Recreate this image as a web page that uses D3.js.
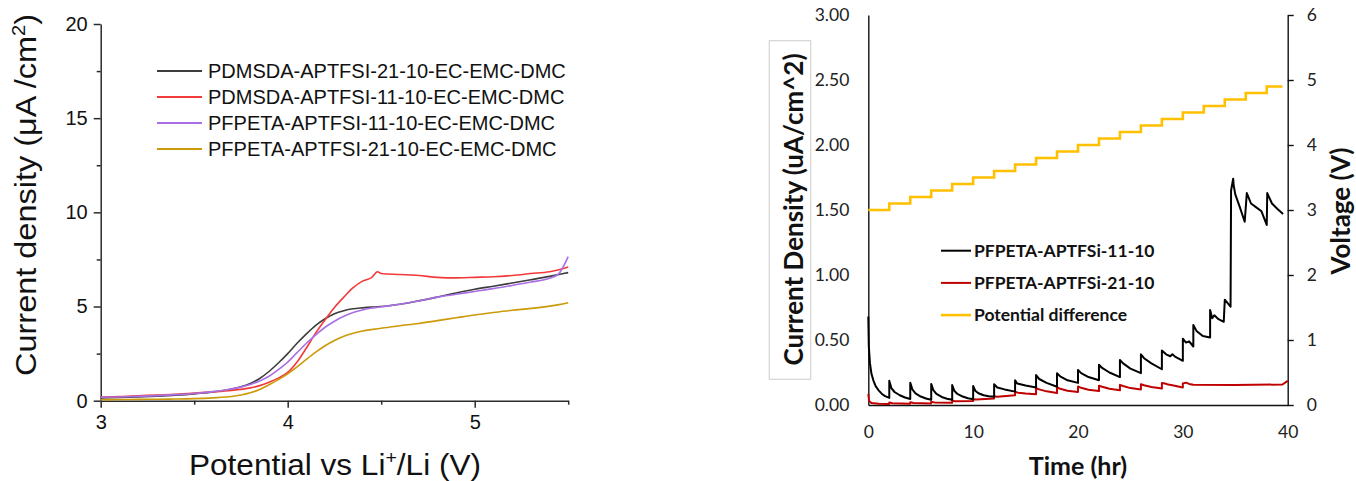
<!DOCTYPE html>
<html>
<head>
<meta charset="utf-8">
<script src="https://cdn.jsdelivr.net/npm/d3@7"></script>
<style>
  html, body { margin: 0; padding: 0; background: #fff; }
  svg { display: block; }
</style>
</head>
<body>
<svg id="chart" width="1356" height="481"></svg>
<script>
// ---------- Left panel: linear sweep voltammetry ----------
const potential = [3.0, 3.1, 3.2, 3.3, 3.4, 3.5, 3.6, 3.7, 3.75, 3.8, 3.85, 3.9, 3.95, 4.0, 4.05, 4.1, 4.15, 4.2, 4.25, 4.3, 4.35, 4.4, 4.45, 4.48, 4.5, 4.6, 4.7, 4.8, 4.9, 5.0, 5.1, 5.2, 5.3, 5.4, 5.45, 5.5];
const pdmsda21 = [0.15, 0.17, 0.2, 0.24, 0.29, 0.36, 0.46, 0.62, 0.74, 0.92, 1.18, 1.55, 2.0, 2.5, 3.05, 3.55, 4.0, 4.35, 4.62, 4.78, 4.88, 4.93, 4.97, 4.99, 5.0, 5.12, 5.3, 5.5, 5.72, 5.92, 6.08, 6.25, 6.42, 6.6, 6.7, 6.8];
const pdmsda11 = [0.2, 0.22, 0.26, 0.3, 0.34, 0.4, 0.47, 0.55, 0.6, 0.68, 0.8, 0.98, 1.2, 1.5, 2.05, 2.8, 3.6, 4.3, 4.95, 5.5, 6.0, 6.35, 6.55, 6.85, 6.75, 6.7, 6.65, 6.55, 6.52, 6.55, 6.58, 6.65, 6.75, 6.85, 6.95, 7.1];
const pfpeta11 = [0.18, 0.2, 0.23, 0.27, 0.32, 0.38, 0.48, 0.62, 0.72, 0.86, 1.05, 1.3, 1.65, 2.05, 2.55, 3.05, 3.5, 3.9, 4.22, 4.48, 4.68, 4.82, 4.92, 4.96, 4.99, 5.12, 5.3, 5.5, 5.65, 5.8, 5.95, 6.12, 6.3, 6.5, 6.75, 7.65];
const pfpeta21 = [0.05, 0.06, 0.07, 0.08, 0.09, 0.11, 0.15, 0.22, 0.3, 0.42, 0.6, 0.85, 1.12, 1.42, 1.8, 2.2, 2.58, 2.92, 3.2, 3.42, 3.58, 3.7, 3.78, 3.82, 3.85, 3.98, 4.1, 4.25, 4.4, 4.55, 4.68, 4.8, 4.9, 5.02, 5.1, 5.2];
const lsvNames = ["PDMSDA-APTFSI-21-10-EC-EMC-DMC", "PDMSDA-APTFSI-11-10-EC-EMC-DMC", "PFPETA-APTFSI-11-10-EC-EMC-DMC", "PFPETA-APTFSI-21-10-EC-EMC-DMC"];
const lsvColors = ["#3d3d3d", "#f23a3a", "#a970e6", "#cc9a08"];
const potentialMajorTicks = [3, 4, 5];
const potentialMinorTicks = [3.5, 4.5, 5.5];
const densityMajorTicks = [0, 5, 10, 15, 20];
const densityMinorTicks = [2.5, 7.5, 12.5, 17.5];

// ---------- Right panel: potentiostatic hold steps ----------
const time11 = [0, 0.05, 0.16, 0.3, 0.48, 0.7, 0.96, 1.3, 1.6, 2.0,
  2.0, 2.2, 2.5, 3.0, 3.5, 4.0,
  4.0, 4.2, 4.5, 5.0, 5.5, 6.0,
  6.0, 6.2, 6.5, 7.0, 7.5, 8.0,
  8.0, 8.2, 8.5, 9.0, 9.5, 10.0,
  10.0, 10.2, 10.5, 11.0, 11.5, 12.0,
  12.0, 12.3, 13.0, 14.0,
  14.0, 14.2, 15.0, 16.0,
  16.0, 16.3, 17.0, 18.0,
  18.0, 18.3, 19.0, 20.0,
  20.0, 20.3, 21.0, 22.0,
  22.0, 22.3, 23.0, 24.0,
  24.0, 24.3, 25.0, 26.0,
  26.0, 26.3, 27.0, 28.0,
  28.0, 28.4, 28.8, 29.0, 29.3, 30.0,
  30.0, 30.3, 30.6, 31.0,
  31.0, 31.3, 31.9, 32.6,
  32.6, 32.8, 33.0, 33.4, 33.9,
  34.0, 34.55, 34.6, 34.8, 34.85, 35.0, 35.4, 35.9,
  36.1, 36.5, 37.0, 37.5, 38.0,
  38.05, 38.5, 39.0, 39.56];
const density11 = [0.68, 0.45, 0.32, 0.24, 0.19, 0.145, 0.115, 0.085, 0.068, 0.055,
  0.187, 0.13, 0.1, 0.075, 0.058, 0.046,
  0.172, 0.12, 0.09, 0.065, 0.05, 0.04,
  0.162, 0.115, 0.085, 0.062, 0.048, 0.04,
  0.154, 0.11, 0.085, 0.065, 0.052, 0.045,
  0.146, 0.11, 0.09, 0.075, 0.068, 0.064,
  0.16, 0.135, 0.12, 0.103,
  0.19, 0.165, 0.15, 0.135,
  0.23, 0.2, 0.17, 0.14,
  0.245, 0.22, 0.19, 0.17,
  0.27, 0.245, 0.215, 0.19,
  0.31, 0.285, 0.25, 0.215,
  0.346, 0.32, 0.28, 0.245,
  0.39, 0.36, 0.32, 0.275,
  0.42, 0.39, 0.375, 0.39, 0.37, 0.34,
  0.51, 0.48, 0.49, 0.45,
  0.615, 0.57, 0.53, 0.52,
  0.73, 0.667, 0.69, 0.66, 0.64,
  0.81, 0.756, 1.65, 1.74, 1.69, 1.62, 1.53, 1.41,
  1.63, 1.55, 1.52, 1.49, 1.385,
  1.63, 1.55, 1.51, 1.47];

const time21 = [0, 0.08, 0.3, 1.0, 2.0,
  2.0, 2.3, 4.0,
  4.0, 4.3, 6.0,
  6.0, 6.3, 8.0,
  8.0, 8.3, 10.0,
  10.0, 10.3, 12.0,
  12.0, 12.3, 14.0,
  14.0, 14.3, 15.0, 16.0,
  16.0, 16.3, 17.0, 18.0,
  18.0, 18.3, 19.0, 20.0,
  20.0, 20.3, 21.0, 22.0,
  22.0, 22.3, 23.0, 24.0,
  24.0, 24.3, 25.0, 26.0,
  26.0, 26.3, 27.0, 28.0,
  28.0, 28.3, 28.6, 29.0, 30.0,
  30.0, 30.3, 30.6, 31.0, 35.0, 39.5, 40.0];
const density21 = [0.085, 0.03, 0.015, 0.01, 0.008,
  0.02, 0.013, 0.01,
  0.022, 0.015, 0.012,
  0.026, 0.02, 0.017,
  0.034, 0.028, 0.03,
  0.045, 0.042, 0.05,
  0.068, 0.064, 0.075,
  0.1, 0.095, 0.088, 0.083,
  0.13, 0.12, 0.105, 0.092,
  0.135, 0.125, 0.11, 0.1,
  0.142, 0.132, 0.118, 0.107,
  0.148, 0.14, 0.125, 0.113,
  0.155, 0.146, 0.13, 0.12,
  0.16, 0.152, 0.138, 0.127,
  0.17, 0.165, 0.157, 0.152, 0.135,
  0.165, 0.172, 0.162, 0.155, 0.153, 0.158, 0.185];

const stepTime = [0, 2, 4, 6, 8, 10, 12, 14, 16, 18, 20, 22, 24, 26, 28, 30, 32, 34, 36, 38, 39.5];
const stepVoltage = [3.0, 3.1, 3.2, 3.3, 3.4, 3.5, 3.6, 3.7, 3.8, 3.9, 4.0, 4.1, 4.2, 4.3, 4.4, 4.5, 4.6, 4.7, 4.8, 4.9, 4.9];

const holdNames = ["PFPETA-APTFSi-11-10", "PFPETA-APTFSi-21-10", "Potential difference"];
const holdColors = ["#000000", "#c00000", "#ffc000"];
const timeTicks = [0, 10, 20, 30, 40];
const densityTicks = [0, 0.5, 1.0, 1.5, 2.0, 2.5, 3.0];
const voltageTicks = [0, 1, 2, 3, 4, 5, 6];

const svg = d3.select("#chart");
const arial = "'Liberation Sans', Arial, sans-serif";
const calibri = "Lato, 'Open Sans', sans-serif";

// ================= Left panel =================
{
  const x = d3.scaleLinear().domain([3, 5.5]).range([100.7, 568.2]);
  const y = d3.scaleLinear().domain([0, 20]).range([400.7, 24]);
  const g = svg.append("g");
  const axisColor = "#2b2b2b";

  // minor ticks first (no labels, no domain)
  const yMinor = g.append("g").attr("transform", `translate(${x(3)},0)`)
    .call(d3.axisLeft(y).tickValues(densityMinorTicks).tickSize(4).tickFormat(""));
  yMinor.select(".domain").remove();
  const xMinor = g.append("g").attr("transform", `translate(0,${y(0)})`)
    .call(d3.axisBottom(x).tickValues(potentialMinorTicks).tickSize(4).tickFormat(""));
  xMinor.select(".domain").remove();

  const yAxis = g.append("g").attr("transform", `translate(${x(3)},0)`)
    .call(d3.axisLeft(y).tickValues(densityMajorTicks).tickSize(7).tickSizeOuter(0).tickPadding(6).tickFormat(d3.format("d")));
  const xAxis = g.append("g").attr("transform", `translate(0,${y(0)})`)
    .call(d3.axisBottom(x).tickValues(potentialMajorTicks).tickSize(7).tickSizeOuter(0).tickPadding(7).tickFormat(d3.format("d")));

  [yAxis, xAxis, yMinor, xMinor].forEach(a => {
    a.selectAll("path, line").attr("stroke", axisColor).attr("stroke-width", 1.5);
    a.selectAll("text").attr("font-family", arial).attr("font-size", 20).attr("fill", "#111");
  });

  const series = [pdmsda21, pdmsda11, pfpeta11, pfpeta21];
  const line = d3.line().x(d => x(d[0])).y(d => y(d[1])).curve(d3.curveMonotoneX);
  series.forEach((vals, i) => {
    g.append("path")
      .datum(potential.map((p, j) => [p, vals[j]]))
      .attr("fill", "none")
      .attr("stroke", lsvColors[i])
      .attr("stroke-width", 1.6)
      .attr("stroke-linejoin", "round")
      .attr("d", line);
  });

  // legend
  const leg = g.append("g");
  lsvNames.forEach((name, i) => {
    const yy = 71 + i * 26;
    leg.append("line").attr("x1", 157).attr("x2", 202).attr("y1", yy).attr("y2", yy)
      .attr("stroke", lsvColors[i]).attr("stroke-width", 2);
    leg.append("text").attr("x", 208).attr("y", yy).attr("dy", "0.36em")
      .attr("font-family", arial).attr("font-size", 20).attr("fill", "#111").text(name);
  });

  // axis titles (slightly widened lettering)
  const yt = g.append("text")
    .attr("transform", "translate(36,195) rotate(-90)")
    .attr("text-anchor", "middle")
    .attr("textLength", 362).attr("lengthAdjust", "spacingAndGlyphs")
    .attr("font-family", arial).attr("font-size", 29).attr("fill", "#111");
  yt.append("tspan").text("Current density (\u03bcA /cm");
  yt.append("tspan").attr("font-size", 18).attr("dy", -11).text("2");
  yt.append("tspan").attr("dy", 11).text(")");

  const xt = g.append("text")
    .attr("x", 335).attr("y", 475)
    .attr("text-anchor", "middle")
    .attr("textLength", 292).attr("lengthAdjust", "spacingAndGlyphs")
    .attr("font-family", arial).attr("font-size", 29).attr("fill", "#111");
  xt.append("tspan").text("Potential vs Li");
  xt.append("tspan").attr("font-size", 18).attr("dy", -11).text("+");
  xt.append("tspan").attr("dy", 11).text("/Li (V)");
}

// ================= Right panel =================
{
  const x = d3.scaleLinear().domain([0, 40]).range([868.3, 1287.7]);
  const yL = d3.scaleLinear().domain([0, 3]).range([405, 15]);
  const yR = d3.scaleLinear().domain([0, 6]).range([405, 15]);
  const g = svg.append("g");

  const xAxis = g.append("g").attr("transform", `translate(0,${yL(0)})`)
    .call(d3.axisBottom(x).tickValues(timeTicks).tickSize(0).tickPadding(21).tickFormat(d3.format("d")));
  const yAxisL = g.append("g").attr("transform", `translate(${x(0)},0)`)
    .call(d3.axisLeft(yL).tickValues(densityTicks).tickSize(0).tickPadding(19).tickFormat(d3.format(".2f")));
  const yAxisR = g.append("g").attr("transform", `translate(${x(40)},0)`)
    .call(d3.axisRight(yR).tickValues(voltageTicks).tickSize(6).tickSizeOuter(0).tickPadding(13).tickFormat(d3.format("d")));

  [xAxis, yAxisL, yAxisR].forEach(a => {
    a.selectAll("path, line").attr("stroke", "#111").attr("stroke-width", 1.4);
    a.selectAll("text").attr("font-family", calibri).attr("font-size", 17.5).attr("fill", "#222");
  });

  const lineL = d3.line().x(d => x(d[0])).y(d => yL(d[1]));
  const lineStep = d3.line().x(d => x(d[0])).y(d => yR(d[1])).curve(d3.curveStepAfter);

  g.append("path")
    .datum(stepTime.map((t, i) => [t, stepVoltage[i]]))
    .attr("fill", "none").attr("stroke", holdColors[2]).attr("stroke-width", 2.6)
    .attr("d", lineStep);
  g.append("path")
    .datum(time21.map((t, i) => [t, density21[i]]))
    .attr("fill", "none").attr("stroke", holdColors[1]).attr("stroke-width", 2)
    .attr("stroke-linejoin", "round").attr("d", lineL);
  g.append("path")
    .datum(time11.map((t, i) => [t, density11[i]]))
    .attr("fill", "none").attr("stroke", holdColors[0]).attr("stroke-width", 2)
    .attr("stroke-linejoin", "round").attr("d", lineL);

  // legend
  holdNames.forEach((name, i) => {
    const yy = 250.7 + i * 32.2;
    g.append("line").attr("x1", 941).attr("x2", 971).attr("y1", yy).attr("y2", yy)
      .attr("stroke", holdColors[i]).attr("stroke-width", i === 2 ? 2.6 : 2);
    g.append("text").attr("x", 974).attr("y", yy).attr("dy", "0.36em")
      .attr("font-family", calibri).attr("font-weight", 700).attr("font-size", 17.5)
      .attr("fill", "#111").text(name);
  });

  // titles
  g.append("rect").attr("x", 769.3).attr("y", 40.7).attr("width", 41.4).attr("height", 338.6)
    .attr("fill", "none").attr("stroke", "#d4d4d4").attr("stroke-width", 1.2);
  g.append("text")
    .attr("transform", "translate(802.5,209.5) rotate(-90)")
    .attr("text-anchor", "middle")
    .attr("font-family", calibri).attr("font-weight", 700).attr("font-size", 26).attr("fill", "#111")
    .text("Current Density (uA/cm^2)");
  g.append("text")
    .attr("transform", "translate(1350,211) rotate(-90)")
    .attr("text-anchor", "middle")
    .attr("font-family", calibri).attr("font-weight", 700).attr("font-size", 26).attr("fill", "#111")
    .text("Voltage (V)");
  g.append("text")
    .attr("x", 1078).attr("y", 475)
    .attr("text-anchor", "middle")
    .attr("font-family", calibri).attr("font-weight", 700).attr("font-size", 25).attr("fill", "#111")
    .text("Time (hr)");
}
</script>
</body>
</html>
